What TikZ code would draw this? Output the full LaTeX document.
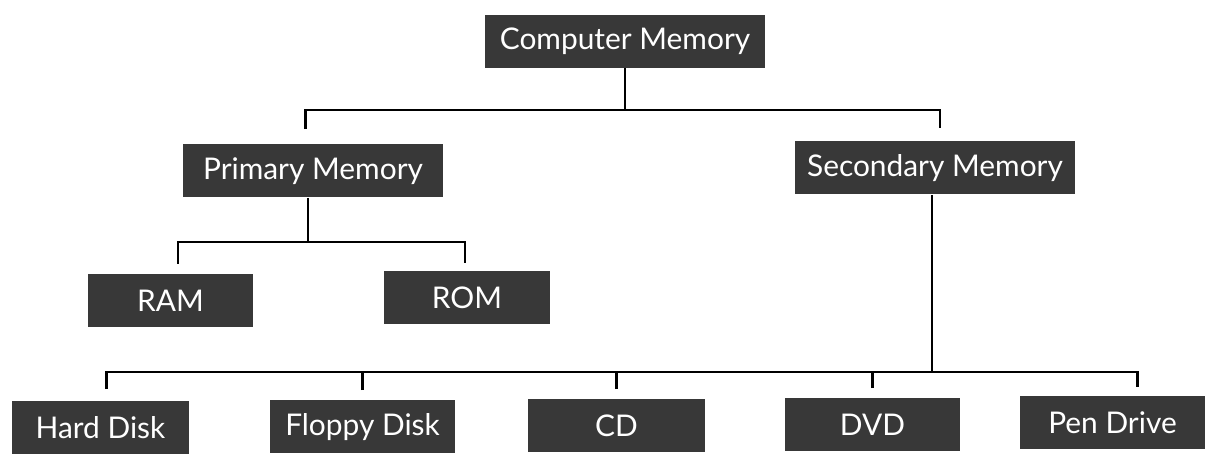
\documentclass[tikz,border=0pt]{standalone}
\usepackage{fontspec}
\setmainfont{Lato}
\usetikzlibrary{positioning}

\begin{document}
\begin{tikzpicture}[
  memory/.style={fill=black!78, text=white, minimum height=1.06cm, inner sep=0pt,
    font=\fontsize{17}{20}\selectfont},
  wire/.style={line width=1.2pt}
]
\useasboundingbox (0,0) rectangle (24.48,9.1);
\node[memory, minimum width=5.6cm] (cm) at (12.5,8.27) {Computer Memory};
\node[memory, minimum width=5.2cm] (pm) at (6.26,5.68) {Primary Memory};
\node[memory, minimum width=5.6cm] (sm) at (18.7,5.74) {Secondary Memory};
\node[memory, minimum width=3.3cm] (ram) at (3.41,3.09) {RAM};
\node[memory, minimum width=3.32cm] (rom) at (9.34,3.15) {ROM};
\node[memory, minimum width=3.54cm] (hd) at (2.01,0.54) {Hard Disk};
\node[memory, minimum width=3.7cm] (fd) at (7.25,0.56) {Floppy Disk};
\node[memory, minimum width=3.54cm] (cd) at (12.33,0.58) {CD};
\node[memory, minimum width=3.5cm] (dvd) at (17.45,0.6) {DVD};
\node[memory, minimum width=3.7cm] (pd) at (22.25,0.64) {Pen Drive};
\draw[wire] (cm.south) -- ++(0,-0.84) coordinate (top);
\draw[wire] ([xshift=-1.5mm,yshift=3mm]pm.north) |- (top) -| ([xshift=1mm,yshift=2.6mm]sm.north);
\draw[wire] ([xshift=-1mm]pm.south) -- ++(0,-0.88) coordinate (mid);
\draw[wire] ([xshift=1.5mm,yshift=2mm]ram.north) |- (mid) -| ([xshift=-0.4mm,yshift=1.6mm]rom.north);
\draw[wire] ([xshift=-0.6mm]sm.south) -- ++(0,-3.54) coordinate (low);
\draw[wire] ([xshift=1.2mm,yshift=2.4mm]hd.north) |- (low);
\draw[wire] ([yshift=2mm]fd.north) -- (fd.north |- low);
\draw[wire] ([yshift=2mm]cd.north) -- (cd.north |- low);
\draw[wire] ([yshift=2mm]dvd.north) -- (dvd.north |- low);
\draw[wire] (low) -| ([xshift=5mm,yshift=1.8mm]pd.north);
\end{tikzpicture}
\end{document}
